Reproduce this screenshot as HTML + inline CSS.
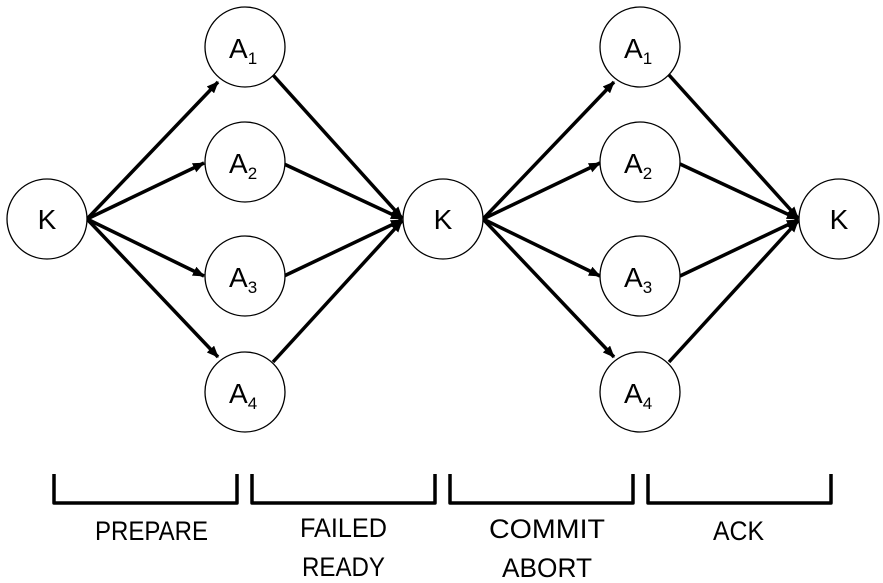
<!DOCTYPE html>
<html><head><style>
html,body{margin:0;padding:0;background:#fff;}
svg{display:block;}
text{font-family:"Liberation Sans",sans-serif;fill:#000;}
</style></head><body>
<svg width="883" height="583" viewBox="0 0 883 583" xmlns="http://www.w3.org/2000/svg">
<defs>
<marker id="ah" markerWidth="12" markerHeight="10" refX="11" refY="5" orient="auto" markerUnits="userSpaceOnUse">
<path d="M0,0 L12,5 L0,10 Z" fill="#000"/>
</marker>
</defs>
<g stroke="#000" stroke-width="3.5" fill="none" marker-end="url(#ah)">
<line x1="87" y1="219" x2="218" y2="82"/>
<line x1="87" y1="219" x2="204" y2="163"/>
<line x1="87" y1="219" x2="204" y2="276"/>
<line x1="87" y1="219" x2="218" y2="357"/>
<line x1="273" y1="75" x2="402" y2="218"/>
<line x1="284" y1="164" x2="402" y2="219"/>
<line x1="284" y1="276" x2="402" y2="220"/>
<line x1="273" y1="362" x2="402" y2="221"/>
<line x1="483" y1="219" x2="614" y2="82"/>
<line x1="483" y1="219" x2="600" y2="163"/>
<line x1="483" y1="219" x2="600" y2="276"/>
<line x1="483" y1="219" x2="614" y2="357"/>
<line x1="669" y1="75" x2="798" y2="218"/>
<line x1="680" y1="164" x2="798" y2="219"/>
<line x1="680" y1="276" x2="798" y2="220"/>
<line x1="669" y1="362" x2="798" y2="221"/>
</g>
<g stroke="#000" stroke-width="1.3" fill="#fff">
<circle cx="47" cy="219" r="40"/>
<circle cx="443" cy="219" r="40"/>
<circle cx="839" cy="219" r="40"/>
<circle cx="245" cy="47" r="40"/><circle cx="245" cy="162" r="40"/><circle cx="245" cy="276" r="40"/><circle cx="245" cy="392" r="40"/>
<circle cx="640" cy="47" r="40"/><circle cx="640" cy="162" r="40"/><circle cx="640" cy="276" r="40"/><circle cx="640" cy="392" r="40"/>
</g>
<g font-size="28">
<text x="47" y="229" text-anchor="middle">K</text>
<text x="443" y="229" text-anchor="middle">K</text>
<text x="839" y="229" text-anchor="middle">K</text>
<text x="229" y="58">A<tspan font-size="17" dy="6">1</tspan></text>
<text x="229" y="173">A<tspan font-size="17" dy="6">2</tspan></text>
<text x="229" y="287">A<tspan font-size="17" dy="6">3</tspan></text>
<text x="229" y="403">A<tspan font-size="17" dy="6">4</tspan></text>
<text x="624" y="58">A<tspan font-size="17" dy="6">1</tspan></text>
<text x="624" y="173">A<tspan font-size="17" dy="6">2</tspan></text>
<text x="624" y="287">A<tspan font-size="17" dy="6">3</tspan></text>
<text x="624" y="403">A<tspan font-size="17" dy="6">4</tspan></text>
</g>
<g stroke="#000" stroke-width="3.5" fill="none" stroke-linejoin="round">
<path d="M54,474 L54,503 L237,503 L237,474"/>
<path d="M252,474 L252,503 L435,503 L435,474"/>
<path d="M450,474 L450,503 L633,503 L633,474"/>
<path d="M648,474 L648,503 L831,503 L831,474"/>
</g>
<g font-size="27" lengthAdjust="spacingAndGlyphs">
<text x="95" y="540" textLength="113" lengthAdjust="spacingAndGlyphs">PREPARE</text>
<text x="300" y="537" textLength="87" lengthAdjust="spacingAndGlyphs">FAILED</text>
<text x="302" y="576" textLength="83" lengthAdjust="spacingAndGlyphs">READY</text>
<text x="489" y="538" textLength="116" lengthAdjust="spacingAndGlyphs">COMMIT</text>
<text x="502" y="577" textLength="90" lengthAdjust="spacingAndGlyphs">ABORT</text>
<text x="713" y="540" textLength="51" lengthAdjust="spacingAndGlyphs">ACK</text>
</g>
</svg>
</body></html>
